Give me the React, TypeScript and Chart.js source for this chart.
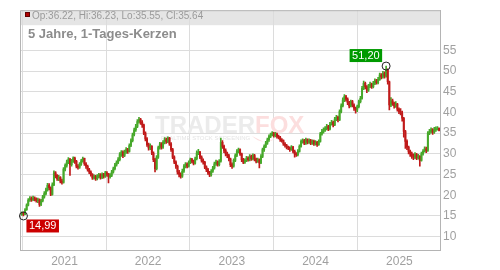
import React, { useEffect, useRef } from 'react';
import { Chart, registerables } from 'chart.js';
Chart.register(...registerables);

// Weekly candles, week i is centred on day (7*i+3) counted from 2020-06-26
const firstOpen = 15.3;
const closes = [
  15.6, 15.4, 16.5, 17.6, 18.8, 19.2, 18.9, 19.3, 19.0, 18.7,
  18.9, 17.8, 18.6, 19.6, 20.4, 21.3, 22.4, 21.8, 20.2, 22.5,
  25.4, 24.8, 24.0, 24.3, 23.4, 23.1, 26.3, 27.2, 28.0, 28.6,
  27.4, 28.3, 29.0, 28.2, 27.0, 26.8, 27.5, 28.3, 28.9, 27.6,
  27.0, 26.2, 25.6, 25.0, 24.2, 24.5, 24.0, 24.6, 24.9, 24.3,
  25.0, 24.6, 25.4, 25.1, 24.5, 24.8, 25.6, 26.4, 27.3, 27.9,
  28.6, 29.8, 30.4, 29.6, 30.5, 31.0, 30.6, 32.0, 33.2, 34.6,
  35.8, 36.6, 37.8, 38.3, 37.6, 37.0, 35.0, 33.6, 32.2, 31.4,
  31.8, 30.2, 28.6, 26.4, 29.2, 31.5, 32.4, 31.6, 32.8, 33.4,
  33.0, 33.8, 32.4, 31.0, 29.2, 28.0, 27.0, 25.6, 25.0, 24.6,
  25.8, 27.0, 27.5, 27.0, 27.9, 28.6, 28.2, 27.7, 28.8, 30.2,
  30.4, 29.2, 28.4, 28.0, 26.8, 26.2, 25.4, 24.9, 25.8, 26.6,
  27.6, 28.0, 27.4, 28.2, 32.8, 31.8, 30.8, 30.0, 29.6, 28.8,
  27.4, 27.0, 28.4, 29.6, 30.6, 31.0, 30.0, 28.6, 28.0, 28.4,
  29.0, 28.6, 29.4, 28.8, 29.6, 28.7, 28.2, 28.6, 27.8, 29.4,
  31.0, 31.8, 32.6, 33.4, 34.2, 34.6, 35.0, 34.4, 34.8, 34.2,
  34.0, 33.4, 33.2, 32.4, 32.0, 31.6, 31.4, 31.0, 31.6, 30.6,
  30.0, 29.8, 30.6, 31.8, 33.0, 33.2, 32.6, 33.4, 32.8, 33.2,
  32.6, 33.0, 32.4, 32.8, 32.2, 33.0, 34.8, 35.4, 35.8, 36.2,
  36.6, 36.0, 37.2, 37.6, 37.0, 38.4, 38.8, 38.2, 40.2, 41.6,
  43.0, 43.8, 43.2, 42.4, 41.6, 42.6, 41.8, 41.0, 40.6, 41.4,
  42.6, 43.4, 45.8, 47.0, 46.2, 45.4, 46.4, 46.8, 46.2, 47.0,
  47.6, 47.2, 48.0, 49.0, 48.6, 49.4, 48.8, 50.2, 47.4, 41.8,
  42.8, 42.2, 41.6, 42.0, 40.8, 40.2, 39.8, 38.6, 35.4, 33.0,
  31.6, 30.6, 30.0, 29.6, 29.2, 29.8, 29.0, 29.4, 28.4, 30.0,
  30.6, 31.2, 30.8, 35.0, 35.4, 35.8, 35.2, 35.8, 36.0, 36.2,
  35.64,
];
const highs = [
  16.0, 15.9, 16.8, 17.9, 19.2, 19.7, 19.6, 19.8, 19.6, 19.4,
  19.3, 19.1, 19.0, 20.0, 20.9, 21.7, 22.9, 22.8, 22.0, 23.0,
  25.9, 25.7, 25.0, 24.8, 24.5, 23.9, 26.7, 27.6, 28.5, 29.1,
  28.9, 28.7, 29.3, 29.2, 28.4, 27.4, 27.9, 28.7, 29.2, 29.0,
  27.9, 27.3, 26.5, 25.9, 25.2, 24.9, 24.8, 25.0, 25.3, 25.2,
  25.4, 25.3, 25.8, 25.7, 25.3, 25.2, 26.0, 26.8, 27.7, 28.3,
  29.1, 30.3, 30.8, 30.7, 30.9, 31.5, 31.3, 32.4, 33.6, 35.0,
  36.2, 37.1, 38.3, 38.8, 38.6, 38.0, 37.2, 35.3, 33.9, 32.6,
  32.4, 32.0, 30.5, 28.9, 29.6, 31.9, 32.8, 32.7, 33.2, 33.9,
  33.8, 34.1, 34.0, 32.7, 31.3, 29.5, 28.3, 27.3, 26.0, 25.4,
  26.3, 27.4, 27.9, 27.8, 28.3, 29.0, 28.9, 28.5, 29.2, 30.7,
  31.1, 30.6, 29.5, 28.8, 28.2, 27.1, 26.5, 25.8, 26.2, 27.0,
  28.0, 28.5, 28.3, 28.6, 33.8, 33.2, 32.1, 31.2, 30.4, 29.9,
  29.0, 27.8, 28.8, 30.0, 31.0, 31.4, 31.2, 30.2, 28.9, 28.8,
  29.4, 29.3, 29.8, 29.7, 30.0, 29.9, 29.0, 29.0, 28.8, 29.8,
  31.4, 32.2, 33.0, 33.8, 34.6, 35.0, 35.4, 35.2, 35.2, 35.0,
  34.5, 34.2, 33.7, 33.4, 32.7, 32.3, 31.9, 31.7, 32.0, 31.8,
  30.9, 30.3, 31.0, 32.2, 33.4, 33.6, 33.5, 33.8, 33.6, 33.6,
  33.5, 33.4, 33.3, 33.2, 33.0, 33.4, 35.2, 35.9, 36.3, 36.6,
  37.1, 36.9, 37.6, 38.1, 37.9, 38.8, 39.3, 39.1, 40.6, 42.1,
  43.5, 44.3, 44.1, 43.5, 42.7, 43.0, 42.9, 42.1, 41.3, 41.8,
  43.0, 43.9, 46.3, 47.6, 47.3, 46.5, 46.8, 47.3, 47.1, 47.5,
  48.1, 48.0, 48.5, 49.5, 49.4, 49.9, 49.8, 51.2, 50.5, 47.6,
  43.6, 43.2, 42.5, 42.6, 42.2, 41.1, 40.9, 40.3, 38.8, 35.7,
  33.4, 31.9, 30.9, 30.4, 30.0, 30.3, 30.1, 29.9, 29.6, 30.4,
  31.0, 31.7, 31.6, 35.4, 35.9, 36.3, 36.1, 36.4, 36.5, 36.6,
  36.23,
];
const lows = [
  15.1, 14.99, 15.3, 16.3, 17.4, 18.5, 18.5, 18.7, 18.6, 18.3,
  18.2, 17.3, 17.5, 18.4, 19.3, 20.1, 21.0, 21.3, 19.9, 20.0,
  22.3, 24.2, 23.6, 23.5, 23.0, 22.7, 22.9, 25.9, 26.8, 27.6,
  24.8, 27.0, 27.9, 27.7, 26.6, 26.3, 26.5, 27.2, 28.0, 27.2,
  26.5, 25.8, 25.2, 24.6, 23.8, 23.9, 23.6, 23.7, 24.2, 23.9,
  24.0, 24.1, 24.3, 24.6, 23.0, 24.1, 24.5, 25.3, 26.1, 27.0,
  27.6, 28.3, 29.4, 29.1, 29.3, 30.1, 30.1, 30.4, 31.7, 32.9,
  34.3, 35.4, 36.3, 37.4, 37.1, 36.4, 34.6, 33.1, 31.8, 30.9,
  31.0, 29.8, 28.1, 25.6, 26.1, 28.9, 31.1, 31.1, 31.3, 32.4,
  32.5, 32.7, 32.0, 30.6, 28.8, 27.6, 26.5, 25.1, 24.4, 24.1,
  24.3, 25.5, 26.6, 26.6, 26.8, 27.6, 27.8, 27.3, 27.5, 28.5,
  29.8, 28.8, 28.0, 27.5, 26.4, 25.7, 25.0, 24.5, 24.6, 25.5,
  26.3, 27.2, 27.0, 27.1, 28.0, 31.3, 30.3, 29.5, 29.1, 28.3,
  26.9, 26.5, 26.8, 28.1, 29.3, 30.2, 29.6, 28.1, 27.6, 27.7,
  28.1, 28.2, 28.3, 28.4, 28.5, 28.3, 27.8, 27.9, 26.6, 27.6,
  29.1, 30.6, 31.5, 32.3, 33.0, 33.9, 34.3, 34.0, 34.1, 33.8,
  33.6, 33.0, 32.8, 32.0, 31.6, 31.2, 31.0, 30.6, 30.8, 30.2,
  29.2, 29.4, 29.5, 30.4, 31.6, 32.6, 32.2, 32.3, 32.4, 32.5,
  32.2, 32.3, 32.0, 32.1, 31.8, 32.0, 32.8, 34.5, 35.0, 35.4,
  35.8, 35.6, 35.8, 36.9, 36.5, 36.8, 38.0, 37.7, 38.0, 39.9,
  41.3, 42.6, 42.7, 41.9, 41.1, 41.3, 41.3, 40.5, 39.8, 40.2,
  41.1, 42.3, 43.2, 45.5, 45.7, 44.8, 45.1, 46.0, 45.8, 45.9,
  46.7, 46.8, 46.9, 47.7, 48.1, 48.3, 48.3, 48.5, 46.8, 40.6,
  41.4, 41.7, 41.0, 41.2, 40.3, 39.7, 39.4, 37.9, 34.0, 31.3,
  31.0, 30.0, 29.4, 28.9, 28.6, 28.8, 28.6, 28.7, 27.0, 28.2,
  29.7, 30.4, 30.3, 30.6, 34.6, 35.0, 34.7, 34.9, 35.4, 35.7,
  35.55,
];

const yearTickDays = [189, 554, 919, 1284, 1650];
const yearLabels = ['2021', '2022', '2023', '2024', '2025'];
const yTickValues = [10, 15, 20, 25, 30, 35, 40, 45, 50, 55];
const lastOp = '36.22';
const lastHi = '36.23';
const lastLo = '35.55';
const lastCl = '35.64';
const titleText = '5 Jahre, 1-Tages-Kerzen';

const GREEN = '#46a82a';
const RED = '#c01a1a';
const FONT = '"Liberation Sans", Arial, sans-serif';

export default function App() {
  const ref = useRef<HTMLCanvasElement>(null);
  useEffect(() => {
    const canvas = ref.current!;
    const opens = closes.map((c, i) => (i === 0 ? firstOpen : closes[i - 1]));
    const days = closes.map((_, i) => i * 7 + 3);
    const colors = closes.map((c, i) => (c >= opens[i] ? GREEN : RED));
    const wickData = days.map((d, i) => ({ x: d, y: [lows[i], highs[i]] }));
    const bodyData = days.map((d, i) => ({
      x: d,
      y: [Math.min(opens[i], closes[i]), Math.max(opens[i], closes[i]) + 0.001],
    }));
    let maxI = 0;
    let minI = 0;
    highs.forEach((h, i) => { if (h > highs[maxI]) maxI = i; });
    lows.forEach((l, i) => { if (l < lows[minI]) minI = i; });
    const fmt = (v: number) => v.toFixed(2).replace('.', ',');

    const decor = {
      id: 'decor',
      beforeDraw(chart: any) {
        const { ctx, chartArea: a } = chart;
        ctx.save();
        ctx.fillStyle = '#e5e5e5';
        ctx.fillRect(a.left, a.top, a.right - a.left, 15);
        ctx.restore();
      },
      beforeDatasetsDraw(chart: any) {
        const { ctx } = chart;
        ctx.save();
        ctx.font = `bold 24px ${FONT}`;
        ctx.textBaseline = 'alphabetic';
        ctx.fillStyle = '#ebebeb';
        ctx.fillText('TRADER', 155, 133);
        const w = ctx.measureText('TRADER').width;
        ctx.fillStyle = '#fcdede';
        ctx.fillText('FOX', 155 + w, 133);
        // small fox swoosh under "FOX"
        ctx.beginPath();
        ctx.moveTo(252, 136);
        ctx.quadraticCurveTo(262, 146, 276, 138);
        ctx.quadraticCurveTo(270, 143, 262, 141);
        ctx.closePath();
        ctx.fill();
        ctx.font = `6px ${FONT}`;
        ctx.fillStyle = '#e4e4e4';
        ctx.fillText('REALTIME STOCK SCREENING', 161, 140);
        ctx.restore();
      },
      afterDraw(chart: any) {
        const { ctx, chartArea: a, scales } = chart;
        ctx.save();
        ctx.strokeStyle = '#b4b4b4';
        ctx.lineWidth = 1;
        ctx.beginPath();
        ctx.moveTo(a.left + 0.5, a.bottom);
        ctx.lineTo(a.left + 0.5, a.top + 0.5);
        ctx.lineTo(a.right, a.top + 0.5);
        ctx.stroke();
        // header
        ctx.fillStyle = '#b00000';
        ctx.fillRect(25, 12, 5, 5);
        ctx.strokeStyle = '#600000';
        ctx.strokeRect(25.5, 12.5, 4, 4);
        ctx.font = `10px ${FONT}`;
        ctx.fillStyle = '#9a9a9a';
        ctx.textBaseline = 'middle';
        ctx.fillText(`Op:${lastOp}, Hi:${lastHi}, Lo:${lastLo}, Cl:${lastCl}`, 32, 16);
        ctx.font = `bold 13px ${FONT}`;
        ctx.fillStyle = '#8c8c8c';
        ctx.fillText(titleText, 28, 34);
        // annotations
        const x = scales.x;
        const y = scales.y;
        const drawMark = (i: number, v: number, bg: string, above: boolean) => {
          const cx = x.getPixelForValue(days[i]);
          const cy = y.getPixelForValue(v);
          ctx.font = `11px ${FONT}`;
          const label = fmt(v);
          const tw = ctx.measureText(label).width;
          const bw = tw + 5;
          const bh = 13;
          const bx = above ? cx - 4 - bw : cx + 3;
          const by = above ? cy - 4 - bh : cy + 3.5;
          ctx.fillStyle = bg;
          ctx.fillRect(bx, by, bw, bh);
          ctx.fillStyle = '#ffffff';
          ctx.textBaseline = 'middle';
          ctx.textAlign = 'center';
          ctx.fillText(label, bx + bw / 2, by + bh / 2 + 0.5);
          ctx.beginPath();
          ctx.arc(cx, cy, 4, 0, Math.PI * 2);
          ctx.strokeStyle = '#222';
          ctx.lineWidth = 1;
          ctx.stroke();
          ctx.textAlign = 'left';
        };
        drawMark(maxI, highs[maxI], '#009a00', true);
        drawMark(minI, lows[minI], '#cc0000', false);
        ctx.restore();
      },
    };

    const chart = new Chart(canvas, {
      type: 'bar',
      data: {
        datasets: [
          {
            data: wickData as any,
            backgroundColor: colors,
            barThickness: 1,
            grouped: false,
            order: 2,
          } as any,
          {
            data: bodyData as any,
            backgroundColor: colors,
            barThickness: 1.3,
            grouped: false,
            order: 1,
          } as any,
        ],
      },
      options: {
        responsive: false,
        animation: false,
        events: [],
        layout: { padding: { left: 20, top: 8, right: 0, bottom: 0 } },
        plugins: { legend: { display: false }, tooltip: { enabled: false } },
        scales: {
          x: {
            type: 'linear',
            min: -5,
            max: 1827,
            offset: false,
            afterBuildTicks: (s: any) => { s.ticks = yearTickDays.map((v) => ({ value: v })); },
            afterFit: (s: any) => { s.height = 20; },
            ticks: {
              autoSkip: false,
              maxRotation: 0,
              padding: 4,
              color: '#a0a0a0',
              font: { family: FONT, size: 12 },
              callback: (v: any) => yearLabels[yearTickDays.indexOf(Number(v))] ?? '',
            },
            grid: { color: '#dcdcdc', drawTicks: false },
            border: { color: '#b4b4b4' },
          },
          y: {
            type: 'linear',
            position: 'right',
            min: 6.77,
            max: 64.69,
            afterBuildTicks: (s: any) => { s.ticks = yTickValues.map((v) => ({ value: v })); },
            afterFit: (s: any) => { s.width = 60; },
            ticks: {
              padding: 3,
              color: '#a0a0a0',
              font: { family: FONT, size: 12 },
              callback: (v: any) => String(v),
            },
            grid: { color: '#dcdcdc', drawTicks: false },
            border: { color: '#b4b4b4' },
          },
        },
      } as any,
      plugins: [decor],
    });
    return () => chart.destroy();
  }, []);

  return (
    <div style={{ position: 'fixed', left: 0, top: 0, width: 500, height: 270, background: '#fff' }}>
      <canvas ref={ref} width={500} height={270} style={{ width: 500, height: 270, display: 'block' }} />
    </div>
  );
}
